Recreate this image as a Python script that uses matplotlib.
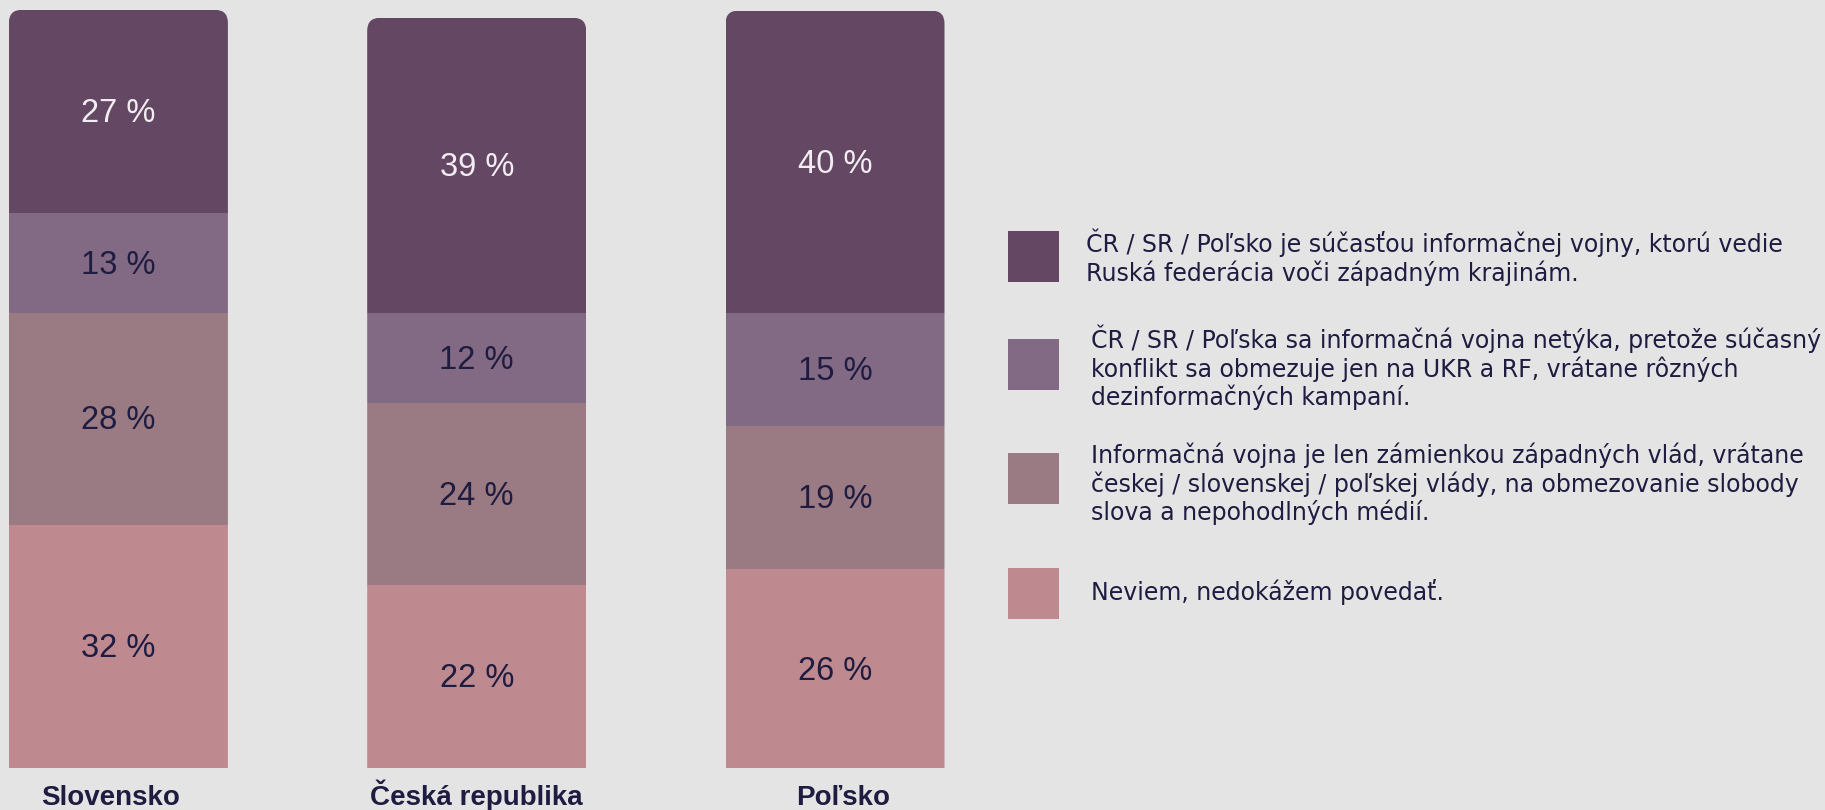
import matplotlib
matplotlib.use("Agg")
import matplotlib.pyplot as plt
from matplotlib.patches import FancyBboxPatch, Rectangle

plt.rcParams["font.family"] = ["Liberation Sans", "DejaVu Sans"]

countries = ["Slovensko", "Česká republika", "Poľsko"]
# bottom -> top: Neviem, Informačná vojna je zámienkou, netýka sa, súčasťou vojny
shown_pct = {
    "neviem":   [32, 22, 26],
    "zamienka": [28, 24, 19],
    "netyka":   [13, 12, 15],
    "sucast":   [27, 39, 40],
}
# bar heights as drawn in the picture (labels are rounded values)
heights = {
    "neviem":   [32.1, 24.2, 26.2],
    "zamienka": [28.0, 23.9, 18.95],
    "netyka":   [13.15, 12.0, 14.9],
    "sucast":   [26.8, 38.9, 39.9],
}
order = ["neviem", "zamienka", "netyka", "sucast"]
colors = {"neviem": "#be8a90", "zamienka": "#9a7b83", "netyka": "#836a84", "sucast": "#634763"}
label_col = {"neviem": "#1e1c40", "zamienka": "#1e1c40", "netyka": "#1e1c40", "sucast": "#f1edf2"}
legend_txt = [
    ("sucast", "ČR / SR / Poľsko je súčasťou informačnej vojny, ktorú vedie\nRuská federácia voči západným krajinám."),
    ("netyka", "ČR / SR / Poľska sa informačná vojna netýka, pretože súčasný\nkonflikt sa obmezuje jen na UKR a RF, vrátane rôzných\ndezinformačných kampaní."),
    ("zamienka", "Informačná vojna je len zámienkou západných vlád, vrátane\nčeskej / slovenskej / poľskej vlády, na obmezovanie slobody\nslova a nepohodlných médií."),
    ("neviem", "Neviem, nedokážem povedať."),
]

W, H = 1825, 810
bg = "#e4e4e4"
navy = "#1e1c40"
fig = plt.figure(figsize=(W / 100, H / 100), dpi=100, facecolor=bg)
ax = fig.add_axes([0, 0, 1, 1])
ax.set_facecolor(bg)
ax.axis("off")

step_px, pct_px, x0_px, base_px = 358.3, 7.578, 118.4, 42
ax.set_xlim(-x0_px / step_px, (W - x0_px) / step_px)
ax.set_ylim(-base_px / pct_px, (H - base_px) / pct_px)
bw = 219 / step_px
aspect = step_px / pct_px

x = list(range(len(countries)))
bottoms = [0.0] * len(countries)
for key in order:
    bars = ax.bar(x, heights[key], bw, bottom=bottoms, color=colors[key], linewidth=0)
    for i, b in enumerate(bars):
        tot = sum(heights[k][i] for k in order)
        clip = FancyBboxPatch((i - bw / 2, -5), bw, tot + 5,
                              boxstyle="round,pad=0,rounding_size=%f" % (13 / step_px),
                              mutation_aspect=aspect, transform=ax.transData,
                              facecolor="none", edgecolor="none")
        b.set_clip_path(clip)
        ax.text(i, bottoms[i] + heights[key][i] / 2 - 0.3, f"{shown_pct[key][i]} %",
                ha="center", va="center", fontsize=23.5, color=label_col[key])
    bottoms = [bt + h for bt, h in zip(bottoms, heights[key])]

name_dx = [-8, 0, 8]  # px nudges of the country names
for i, c in enumerate(countries):
    ax.text(i + name_dx[i] / step_px, (768 - 805) / pct_px, c, ha="center", va="baseline",
            fontsize=20, fontweight="bold", color=navy)

# legend
sq_top = [231, 339, 453, 568]
txt_y = [257, 367.5, 484, 592]
txt_x = [1086, 1091, 1091, 1091]
for (key, txt), st, ty, tx in zip(legend_txt, sq_top, txt_y, txt_x):
    fig.patches.append(Rectangle((1008 / W, 1 - (st + 51) / H), 51 / W, 51 / H,
                                 transform=fig.transFigure, facecolor=colors[key],
                                 edgecolor="none"))
    fig.text(tx / W, 1 - ty / H, txt, ha="left", va="center", fontsize=17,
             color=navy, linespacing=1.15, family=["DejaVu Sans"])

fig.savefig("out.png", dpi=100, facecolor=bg)
